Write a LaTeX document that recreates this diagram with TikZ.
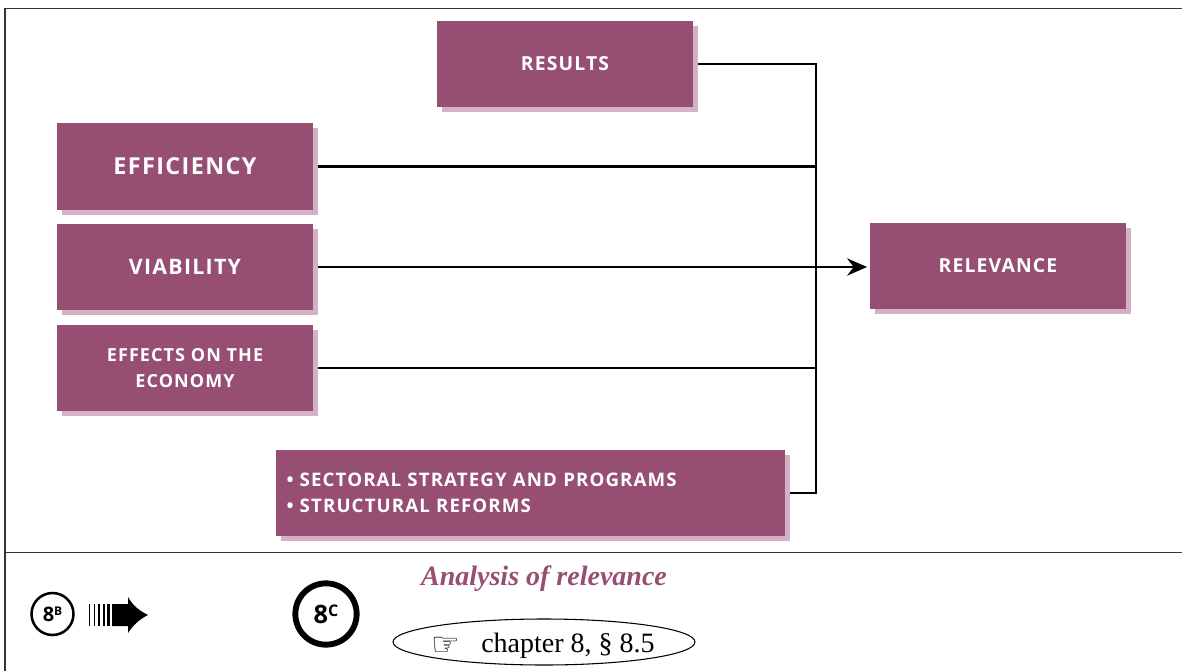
\documentclass[tikz,border=0pt]{standalone}
\usepackage{fontspec}
\setmainfont{Liberation Serif}
\newfontfamily\boxfont[LetterSpace=6]{Open Sans}
\newfontfamily\dejavu{DejaVu Sans}
\usetikzlibrary{arrows.meta,shapes.geometric,calc}
\definecolor{plum}{HTML}{964F73}
\definecolor{plumshade}{HTML}{D5B1C6}
\tikzset{
  x=0.75pt,y=-0.75pt,
  plumbox/.style={draw=none,fill=plum,text=white,minimum width=192pt,minimum height=64.7pt,inner sep=0pt,align=center,font=\boxfont\bfseries\fontsize{15}{19}\selectfont,
    preaction={draw=none,fill=plumshade,transform canvas={xshift=3.75pt,yshift=-3.75pt}}},
  wire/.style={line width=1.6pt,black},
  frameline/.style={line width=1pt,black!80},
  badge/.style={circle,draw=black,fill=white,inner sep=0pt,font=\boxfont\bfseries},
}
\begin{document}
\begin{tikzpicture}
\useasboundingbox (0,0) rectangle (1182,671);
\draw[frameline] (1182,8.5) -- (5,8.5) -- (5,671);
\draw[frameline] (5,552.5) -- (1182,552.5);

\node[plumbox,font=\boxfont\bfseries\fontsize{14.5}{19}\selectfont] (results) at (565,64) {RESULTS};
\node[plumbox,font=\boxfont\bfseries\fontsize{17.5}{22}\selectfont] (eff) at (185,166.5) {EFFICIENCY};
\node[plumbox,font=\boxfont\bfseries\fontsize{16}{20}\selectfont] (via) at (185,267) {VIABILITY};
\node[plumbox,font=\boxfont\bfseries\fontsize{13.5}{19}\selectfont] (eco) at (185,368) {EFFECTS ON THE\\ECONOMY};
\node[plumbox,minimum width=381.75pt,font=\boxfont\bfseries\fontsize{14}{19.5}\selectfont,align=left,text width=366pt] (sect) at (530.5,493) {\textbullet{} SECTORAL STRATEGY AND PROGRAMS\\\textbullet{} STRUCTURAL REFORMS};
\node[plumbox,font=\boxfont\bfseries\fontsize{14.5}{19}\selectfont] (rel) at (998,266) {RELEVANCE};

\coordinate (bus) at (816,271);
\coordinate (tip) at ([xshift=-2pt]rel.west |- via.east);
\draw[wire] ([xshift=3.75pt]results.east) -| (bus);
\draw[wire] ([xshift=3.75pt]eff.east) -- (eff.east -| bus);
\draw[wire] ([xshift=3.75pt]eco.east) -- (eco.east -| bus);
\draw[wire] ([xshift=3.75pt]sect.east) -| (bus);
\draw[wire,-{Stealth[length=15pt,width=13pt,inset=5pt]}] ([xshift=3.75pt]via.east) -- (tip);

\node[badge,line width=1.9pt,minimum size=31.5pt] (bB) at (52.5,614) {};
\node[font=\boxfont\bfseries\fontsize{15}{15}\selectfont,text=black,inner sep=0pt] (tB) at (bB.center) {8\raisebox{0.55ex}{\fontsize{9}{9}\selectfont B}};
\node[badge,line width=4.4pt,minimum size=46pt] (bC) at (326,614) {};
\node[font=\boxfont\bfseries\fontsize{19}{19}\selectfont,text=black,inner sep=0pt] (tC) at (bC.center) {8\raisebox{0.5ex}{\fontsize{12}{12}\selectfont C}};

% striped arrow
\foreach \xa/\w in {88.5/1.4,93.5/1.5,98/2,102.5/2.5,107/3}{
  \fill[black] (\xa,604) rectangle ++(\w,22);
}
\fill[black] (112,604) -- (128,604) -- (128,597) .. controls (133,606) and (140,611) .. (148,615)
  .. controls (140,619) and (133,625) .. (128,633) -- (128,626) -- (112,626) -- cycle;

\node[font=\bfseries\itshape\fontsize{21}{24}\selectfont,text=plum,inner sep=0pt] (title) at (544,579) {Analysis of relevance};
\node[draw=black,ellipse,line width=0.8pt,minimum width=226.5pt,minimum height=34.5pt,inner sep=0pt] (ref) at (544,642) {};
\node[font=\fontsize{21}{24}\selectfont,inner sep=0pt,anchor=base west] (reft) at (481,652) {chapter 8, § 8.5};
\node[font=\dejavu\fontsize{24}{24}\selectfont,inner sep=0pt] (hand) at (446,646) {☞};
\end{tikzpicture}
\end{document}
